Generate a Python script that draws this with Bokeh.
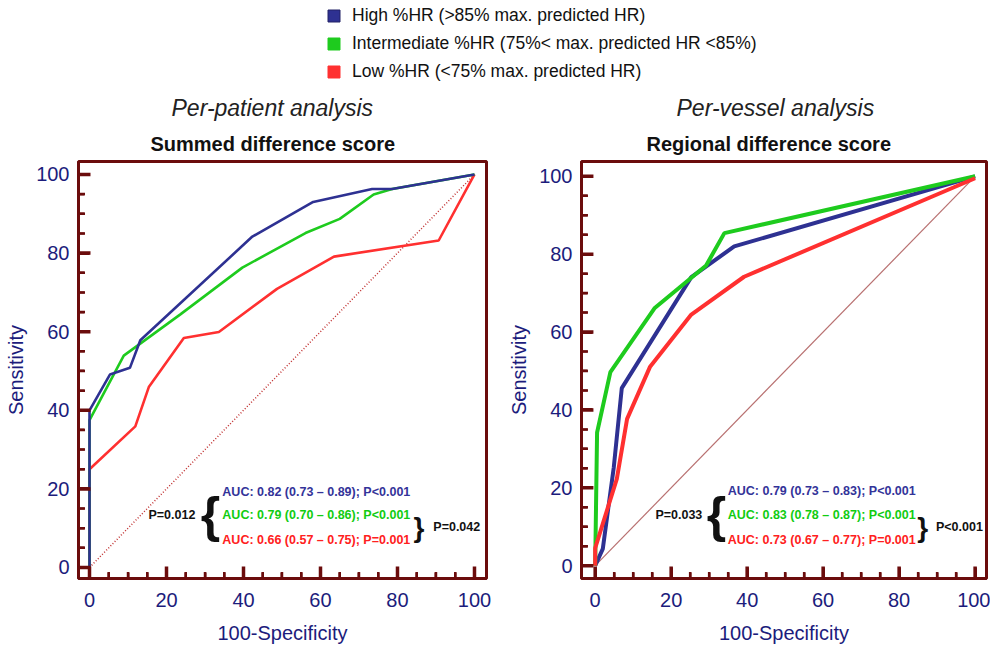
from bokeh.plotting import figure
from bokeh.models import (Range1d, SingleIntervalTicker, Label, Title, Legend, LegendItem)
from bokeh.layouts import column, row
from bokeh.embed import file_html
from bokeh.resources import INLINE

# ---------------- data ----------------
series_names = [
    "High %HR (>85% max. predicted HR)",
    "Intermediate %HR (75%< max. predicted HR <85%)",
    "Low %HR (<75% max. predicted HR)",
]
series_colors = ["#2e3192", "#1ecb1e", "#ff3030"]
text_colors = ["#333399", "#11cc11", "#ff2020"]

major_ticks = [0, 20, 40, 60, 80, 100]
minor_ticks = [5, 10, 15, 25, 30, 35, 45, 50, 55, 65, 70, 75, 85, 90, 95]

# Per-patient analysis (Summed difference score)
pp_high_x = [0, 0, 5.3, 10.5, 13.2, 42.3, 58.1, 73.4, 78.6, 100]
pp_high_y = [0, 40, 49.1, 50.8, 57.8, 84.2, 93.0, 96.3, 96.3, 100]
pp_int_x = [0, 0, 8.9, 23.6, 39.7, 56.1, 65.0, 73.8, 78.6, 100]
pp_int_y = [0, 37.5, 53.9, 64.4, 76.3, 85.1, 88.7, 94.9, 96.3, 100]
pp_low_x = [0, 0, 11.9, 15.4, 24.5, 33.6, 48.7, 63.5, 90.7, 100]
pp_low_y = [0, 25, 35.9, 45.9, 58.4, 59.9, 70.9, 79.1, 83.2, 100]
pp_auc = [
    "AUC: 0.82 (0.73 \u2013 0.89); P<0.001",
    "AUC: 0.79 (0.70 \u2013 0.86); P<0.001",
    "AUC: 0.66 (0.57 \u2013 0.75); P=0.001",
]
pp_p_left = "P=0.012"
pp_p_right = "P=0.042"

# Per-vessel analysis (Regional difference score)
pv_high_x = [0, 2.0, 4.9, 7.0, 25.3, 36.6, 100]
pv_high_y = [0, 4.3, 25.3, 45.6, 74.1, 82.0, 100]
pv_int_x = [0, 0.5, 4.0, 15.6, 29.2, 34.0, 100]
pv_int_y = [0, 34.2, 49.7, 66.1, 77.1, 85.4, 100]
pv_low_x = [0, 0, 5.7, 8.4, 14.4, 25.3, 39.2, 100]
pv_low_y = [0, 4.5, 22.3, 37.7, 51.0, 64.5, 74.2, 99.5]
pv_auc = [
    "AUC: 0.79 (0.73 \u2013 0.83); P<0.001",
    "AUC: 0.83 (0.78 \u2013 0.87); P<0.001",
    "AUC: 0.73 (0.67 \u2013 0.77); P=0.001",
]
pv_p_left = "P=0.033"
pv_p_right = "P<0.001"

diag_x = [0, 100]
diag_y = [0, 100]

# ---------------- style ----------------
FONT = "Liberation Sans"
FRAME = "#6b0c0c"
NAVY = "#1c1c7c"
FRAME_H = 417
MIN_TOP, MIN_BOTTOM = 73, 71
NAN = float("nan")


def roc_figure(width, min_left, min_right, xr, yr, subtitle, title, off_sub, off_title):
    p = figure(width=width, height=FRAME_H + MIN_TOP + MIN_BOTTOM,
               x_range=Range1d(*xr), y_range=Range1d(*yr),
               output_backend="svg", toolbar_location=None, title=None,
               min_border_left=min_left, min_border_right=min_right,
               min_border_top=MIN_TOP, min_border_bottom=MIN_BOTTOM)
    p.xgrid.visible = False
    p.ygrid.visible = False
    p.outline_line_color = FRAME
    p.outline_line_width = 3
    p.outline_line_alpha = 1
    for ax in (p.xaxis[0], p.yaxis[0]):
        ax.ticker = SingleIntervalTicker(interval=20, num_minor_ticks=4)
        ax.axis_line_color = FRAME
        ax.axis_line_width = 3
        ax.major_tick_line_color = FRAME
        ax.major_tick_line_width = 3
        ax.minor_tick_line_color = FRAME
        ax.minor_tick_line_width = 2
        ax.major_tick_in = 11
        ax.major_tick_out = 0
        ax.minor_tick_in = 6
        ax.minor_tick_out = 0
        ax.major_label_text_font = FONT
        ax.major_label_text_font_size = "20px"
        ax.major_label_text_color = NAVY
        ax.axis_label_text_font = FONT
        ax.axis_label_text_font_size = "20px"
        ax.axis_label_text_font_style = "normal"
        ax.axis_label_text_color = NAVY
    p.xaxis.axis_label = "100-Specificity"
    p.yaxis.axis_label = "Sensitivity"
    p.xaxis.major_label_standoff = 14
    p.xaxis.axis_label_standoff = 12
    p.yaxis.major_label_standoff = 9
    p.yaxis.axis_label_standoff = 6
    p.add_layout(Title(text=title, align="left", offset=off_title, text_font=FONT,
                       text_font_size="20px", text_font_style="bold",
                       text_color="#111111", standoff=13), "above")
    p.add_layout(Title(text=subtitle, align="left", offset=off_sub, text_font=FONT,
                       text_font_size="23px", text_font_style="italic",
                       text_color="#222222", standoff=8), "above")
    return p


def tick_path(ticks, fixed, length, vertical):
    # one broken polyline holding all tick marks of one edge
    a, b = [], []
    for t in ticks:
        if vertical:
            a += [t, t, NAN]
            b += [fixed, fixed + length, NAN]
        else:
            a += [fixed, fixed + length, NAN]
            b += [t, t, NAN]
    return a, b


def add_ticks(p, width, min_left, min_right, xr, yr):
    # inward tick marks along the left and bottom edges of the frame
    frame_w = width - min_left - min_right
    ux = (xr[1] - xr[0]) / frame_w   # data units per pixel
    uy = (yr[1] - yr[0]) / FRAME_H
    for ticks, L, w in ((major_ticks, 12, 3.5), (minor_ticks, 6.5, 2.5)):
        xs, ys = tick_path(ticks, yr[0], L * uy, True)
        p.line(xs, ys, line_color=FRAME, line_width=w)
        xs, ys = tick_path(ticks, xr[0], L * ux, False)
        p.line(xs, ys, line_color=FRAME, line_width=w)


def annotate(p, auc_texts, p_left, p_right, x_auc, ys, x_pl, x_brace, x_rbrace, x_pr):
    for t, c, yy in zip(auc_texts, text_colors, ys):
        p.add_layout(Label(x=x_auc, y=yy, text=t, text_color=c, text_font=FONT,
                           text_font_size="12.5px", text_font_style="bold",
                           text_baseline="middle", text_align="left"))
    p.add_layout(Label(x=x_pl, y=ys[1], text=p_left, text_color="#111111", text_font=FONT,
                       text_font_size="12.5px", text_font_style="bold",
                       text_baseline="middle", text_align="right"))
    p.add_layout(Label(x=x_brace, y=ys[1], text="{", text_color="#111111", text_font=FONT,
                       text_font_size="50px", text_font_style="bold",
                       text_baseline="middle", text_align="center"))
    ymid = (ys[1] + ys[2]) / 2
    p.add_layout(Label(x=x_rbrace, y=ymid, text="}", text_color="#111111", text_font=FONT,
                       text_font_size="28px", text_font_style="bold",
                       text_baseline="middle", text_align="center"))
    p.add_layout(Label(x=x_pr, y=ymid, text=p_right, text_color="#111111", text_font=FONT,
                       text_font_size="12.5px", text_font_style="bold",
                       text_baseline="middle", text_align="left"))


# ---------------- left: per-patient ----------------
L_W, L_ML, L_MR = 505, 78, 19
L_XR, L_YR = (-2.86, 103.12), (-2.8, 103.3)
p1 = roc_figure(L_W, L_ML, L_MR, L_XR, L_YR,
                "Per-patient analysis", "Summed difference score", 93, 72)
p1.line(diag_x, diag_y, line_color="#c03030", line_width=1.5, line_dash="1 2")
p1.line(pp_low_x, pp_low_y, line_color=series_colors[2], line_width=2.6)
p1.line(pp_int_x, pp_int_y, line_color=series_colors[1], line_width=2.6)
p1.line(pp_high_x, pp_high_y, line_color=series_colors[0], line_width=2.6)
add_ticks(p1, L_W, L_ML, L_MR, L_XR, L_YR)
annotate(p1, pp_auc, pp_p_left, pp_p_right, 34.5, [19.2, 13.4, 7.0], 27.5, 31.4, 85.6, 89.3)

# ---------------- right: per-vessel ----------------
R_W, R_ML, R_MR = 485, 74, 4
R_XR, R_YR = (-3.6, 103.0), (-3.3, 103.8)
p2 = roc_figure(R_W, R_ML, R_MR, R_XR, R_YR,
                "Per-vessel analysis", "Regional difference score", 95, 65)
p2.line(diag_x, diag_y, line_color="#b87070", line_width=1.2)
p2.line(pv_high_x, pv_high_y, line_color=series_colors[0], line_width=4)
p2.line(pv_int_x, pv_int_y, line_color=series_colors[1], line_width=4)
p2.line(pv_low_x, pv_low_y, line_color=series_colors[2], line_width=4)
add_ticks(p2, R_W, R_ML, R_MR, R_XR, R_YR)
annotate(p2, pv_auc, pv_p_left, pv_p_right, 34.9, [19.1, 13.0, 6.6], 28.2, 31.9, 86.2, 89.7)

# ---------------- top legend ----------------
lg = figure(width=990, height=88, x_range=Range1d(0, 1), y_range=Range1d(0, 1),
            output_backend="svg", toolbar_location=None, title=None,
            x_axis_location=None, y_axis_location=None, min_border=0)
lg.grid.visible = False
lg.outline_line_color = None
items = []
for name, col in zip(series_names, series_colors):
    # hidden placeholder renderer: only its legend swatch is shown
    r = lg.quad(left=[0], right=[0], top=[0], bottom=[0], fill_color=col,
                line_color="#222266" if col == series_colors[0] else col, visible=False)
    items.append(LegendItem(label=name, renderers=[r]))
legend = Legend(items=items, location=(326, 6), orientation="vertical",
                glyph_width=15, glyph_height=15, label_standoff=11, spacing=7,
                padding=0, margin=0, border_line_color=None, background_fill_alpha=0,
                label_text_font=FONT, label_text_font_size="17.5px", label_height=20,
                label_text_color="#111111")
lg.add_layout(legend)

layout = column(lg, row(p1, p2))
open("out.html", "w").write(file_html(layout, INLINE))
